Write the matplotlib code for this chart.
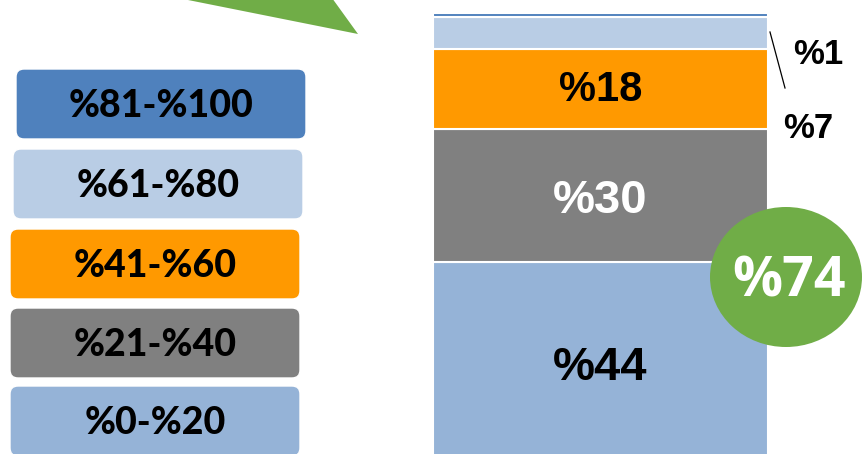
import matplotlib
matplotlib.use("Agg")
import matplotlib.pyplot as plt
from matplotlib.patches import FancyBboxPatch, Ellipse, Polygon

# ---- data ----
categories = ["%0-%20", "%21-%40", "%41-%60", "%61-%80", "%81-%100"]
values = [44, 30, 18, 7, 1]
value_labels = ["%44", "%30", "%18", "%7", "%1"]
colors = ["#95B3D7", "#808080", "#FF9900", "#B9CDE5", "#4F81BD"]
label_colors = ["black", "white", "black", "black", "black"]
total_label = "%74"

W, H = 864, 454
fig = plt.figure(figsize=(W / 100, H / 100), dpi=100)

# bar axes: y=0 at pixel 458, y=100 at pixel 13; x from 433 to 768
bar_bottom_px, bar_top_px = 458, 13
bx0, bx1 = 433, 768
ax = fig.add_axes([bx0 / W, (H - bar_bottom_px) / H, (bx1 - bx0) / W,
                   (bar_bottom_px - bar_top_px) / H])
ax.set_xlim(-0.5, 0.5)
ax.set_ylim(0, 100)
ax.axis("off")
ax.set_zorder(1)

# overlay axes in pixel coordinates (y downwards), drawn on top
ov = fig.add_axes([0, 0, 1, 1])
ov.set_xlim(0, W)
ov.set_ylim(H, 0)
ov.axis("off")
ov.set_zorder(2)
ov.patch.set_alpha(0)

bottom = 0
centers = []
for v, c in zip(values, colors):
    ax.bar(0, v, width=1.0, bottom=bottom, color=c, edgecolor="white",
           linewidth=1.5)
    centers.append(bottom + v / 2)
    bottom += v

inside_sizes = [34, 34, 30]
inside_offsets = [-6, -4, -1]
for i in range(3):
    ax.annotate(value_labels[i], (0, centers[i]), xytext=(0, inside_offsets[i]),
                textcoords="offset points", ha="center", va="center",
                color=label_colors[i], fontsize=inside_sizes[i],
                fontweight="bold", family="Liberation Sans")

# outside labels (%1 and %7)
ov.text(818, 55, value_labels[4], ha="center", va="center", fontsize=25,
        fontweight="bold", family="Liberation Sans")
ov.text(808, 129, value_labels[3], ha="center", va="center", fontsize=25,
        fontweight="bold", family="Liberation Sans")
ov.plot([770, 785], [32, 88], color="black", lw=0.9)

# green triangle at the top
ov.add_patch(Polygon([[178, -2], [358, 34], [332, -2]], closed=True,
                     facecolor="#70AD47", edgecolor="none"))

# green ellipse with total
ov.add_patch(Ellipse((786, 277), 152, 140, facecolor="#70AD47",
                     edgecolor="none", zorder=5))
ov.text(789, 282, total_label, ha="center", va="center", color="white",
        fontsize=40, fontweight="bold", family="Open Sans", zorder=6)

# legend boxes (top to bottom: %81-%100 ... %0-%20)
box_x = [10, 10, 10, 13, 16]
box_y = [386, 308, 229, 149, 69]
bw, bh = 290, 70
for cat, c, x, y in zip(categories, colors, box_x, box_y):
    ov.add_patch(FancyBboxPatch((x + 8, y + 8), bw - 16, bh - 16,
                                boxstyle="round,pad=8",
                                facecolor=c, edgecolor="white", lw=1.0))
    ov.text(x + bw / 2, y + bh / 2 + 2, cat, ha="center", va="center",
            fontsize=27, fontweight="black", family="Lato")

fig.savefig("out.png", dpi=100)
